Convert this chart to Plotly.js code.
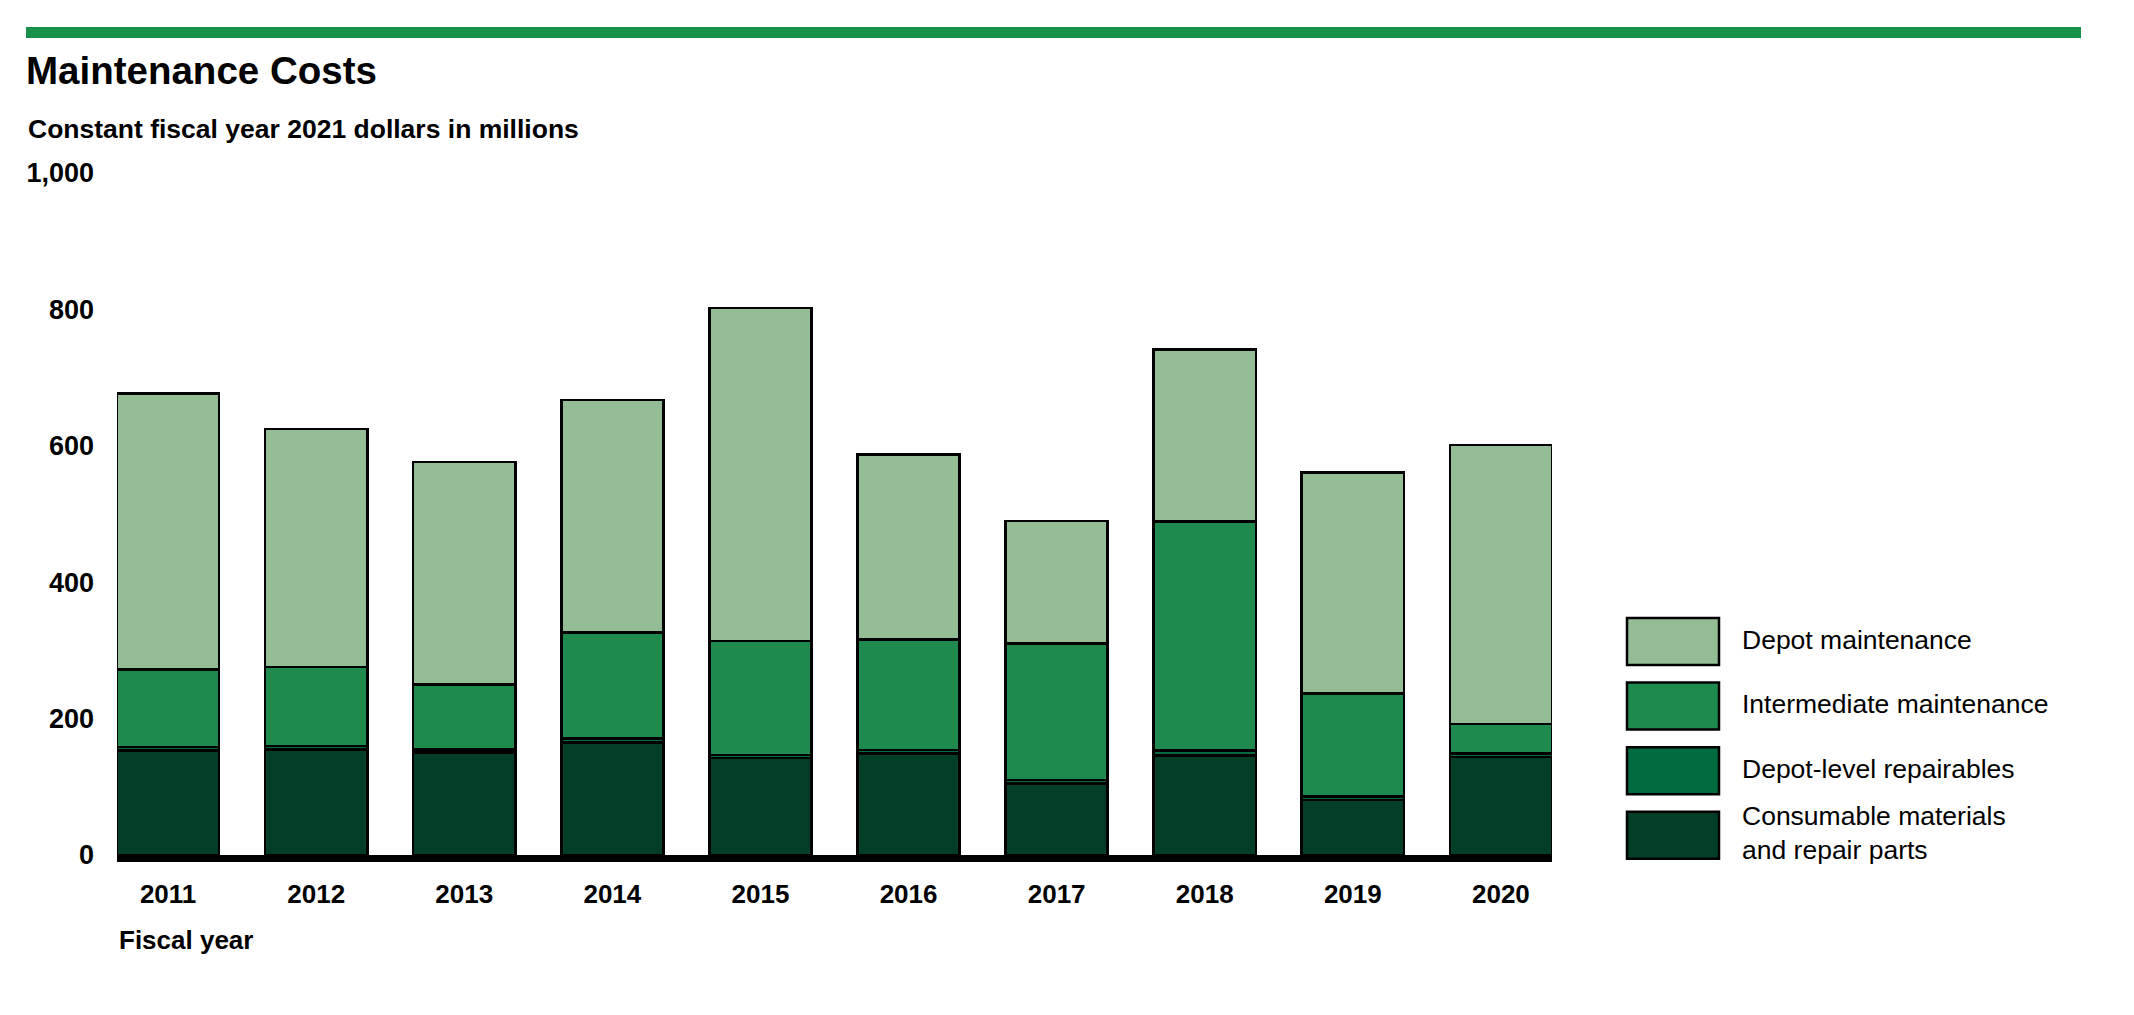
<!DOCTYPE html>
<html>
<head>
<meta charset="utf-8">
<script src="https://cdn.plot.ly/plotly-3.0.1.min.js"></script>
<style>
  html, body { margin: 0; padding: 0; background: #ffffff; }
  #chart { width: 2134px; height: 1015px; }
</style>
</head>
<body>
<div id="chart"></div>
<script>
// ---- Data (constant FY2021 dollars in millions) ----
const years = ['2011', '2012', '2013', '2014', '2015', '2016', '2017', '2018', '2019', '2020'];
const consumables = [153, 155, 150, 165, 142, 149, 105, 146, 81, 144];
const repairables = [5, 5, 5, 6, 5, 5, 5, 7, 5, 5];
const intermediate = [114, 116, 95, 155, 167, 162, 200, 336, 151, 43];
const depot = [405, 349, 326, 341, 488, 271, 180, 252, 324, 409];

const seriesNames = ['Consumable materials<br>and repair parts', 'Depot-level repairables', 'Intermediate maintenance', 'Depot maintenance'];
const seriesColors = ['#023f26', '#036b40', '#1f8a4d', '#95bd95'];
const seriesValues = [consumables, repairables, intermediate, depot];

const yTicks = [0, 200, 400, 600, 800, 1000];
const yTickText = ['0', '200', '400', '600', '800', '1,000'];

const FONT = '"Liberation Sans", Arial, Helvetica, sans-serif';

const traces = seriesValues.map((vals, i) => ({
  type: 'bar',
  x: years,
  y: vals,
  name: seriesNames[i],
  marker: { color: seriesColors[i], line: { color: '#000000', width: 2.5 } },
  showlegend: false,
  hoverinfo: 'skip'
}));

// Custom legend built from series names/colours (top to bottom: reverse stacking order)
const W = 2134, H = 1015;
const mL = 117, mR = 582, mT = 173, mB = 160;
const pw = W - mL - mR, ph = H - mT - mB;
const px = v => (v - mL) / pw;           // pixel x -> paper
const py = v => (H - mB - v) / ph;       // pixel y -> paper

const shapes = [
  { type: 'rect', xref: 'paper', yref: 'paper', x0: px(26), x1: px(2081), y0: py(38), y1: py(27),
    fillcolor: '#1a914a', line: { width: 0 } }
];
const annotations = [
  { xref: 'paper', yref: 'paper', x: px(26), y: py(129), xanchor: 'left', yanchor: 'middle', showarrow: false,
    text: '<b>Constant fiscal year 2021 dollars in millions</b>', font: { family: FONT, size: 26.5, color: '#000' } },
  { xref: 'paper', yref: 'paper', x: px(117), y: py(940), xanchor: 'left', yanchor: 'middle', showarrow: false,
    text: '<b>Fiscal year</b>', font: { family: FONT, size: 26, color: '#000' } }
];

const legendOrder = [3, 2, 1, 0];
legendOrder.forEach((si, k) => {
  const top = 618 + k * 64.6;
  const bot = top + 47;
  shapes.push({ type: 'rect', xref: 'paper', yref: 'paper', x0: px(1627), x1: px(1719), y0: py(bot), y1: py(top),
    fillcolor: seriesColors[si], line: { color: '#000000', width: 2.5 } });
  annotations.push({ xref: 'paper', yref: 'paper', x: px(1740), y: py((top + bot) / 2 - 2), xanchor: 'left', yanchor: 'middle',
    showarrow: false, align: 'left', text: seriesNames[si], font: { family: FONT, size: 26.5, color: '#000' } });
});

const layout = {
  width: W, height: H,
  margin: { l: mL, r: mR, t: mT, b: mB, pad: 0 },
  paper_bgcolor: '#ffffff', plot_bgcolor: '#ffffff',
  barmode: 'stack',
  bargap: 0.31,
  hovermode: false,
  title: {
    text: '<b>Maintenance Costs</b>',
    font: { family: FONT, size: 38.5, color: '#000' },
    x: 26 / W, xanchor: 'left', xref: 'container',
    y: 1 - 71 / H, yanchor: 'middle', yref: 'container'
  },
  xaxis: {
    type: 'category',
    range: [-0.345, 9.345],
    showgrid: false, zeroline: false,
    showline: true, linecolor: '#000000', linewidth: 7,
    ticks: '', ticklabelstandoff: 10,
    tickfont: { family: FONT, size: 26, color: '#000', weight: 'bold' }
  },
  yaxis: {
    range: [0, 1000],
    tickvals: yTicks, ticktext: yTickText,
    showgrid: false, zeroline: false, showline: false,
    ticks: '', ticklabelstandoff: 22,
    tickfont: { family: FONT, size: 27, color: '#000', weight: 'bold' }
  },
  shapes: shapes,
  annotations: annotations,
  font: { family: FONT, color: '#000' }
};

Plotly.newPlot('chart', traces, layout, { staticPlot: true, displayModeBar: false });
</script>
</body>
</html>
